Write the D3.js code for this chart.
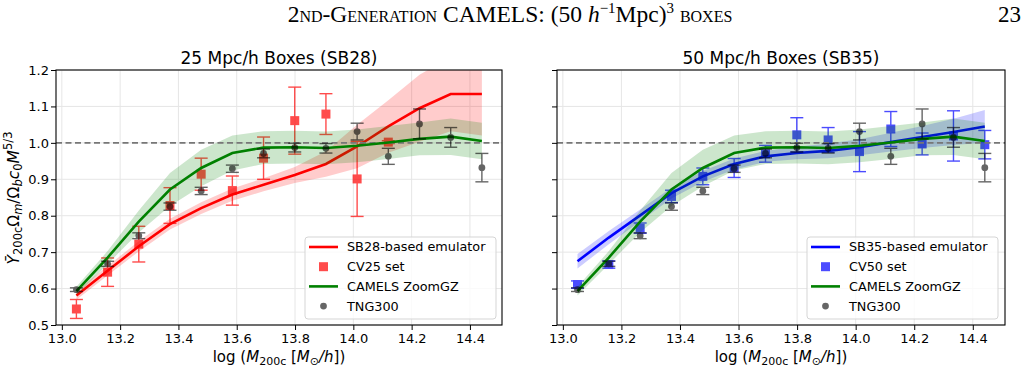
<!DOCTYPE html>
<html>
<head>
<meta charset="utf-8">
<script src="https://cdn.jsdelivr.net/npm/d3@7/dist/d3.min.js"></script>
<style>
  body { margin: 0; background: #fff; }
  svg { display: block; font-family: "DejaVu Sans", sans-serif; }
</style>
</head>
<body>
<svg id="vis" width="1027" height="372"></svg>
<script>
// mass bins (log M200c)
var massBins = [13.05, 13.157, 13.264, 13.371, 13.478, 13.585, 13.692, 13.799, 13.906, 14.013, 14.12, 14.227, 14.334, 14.441]

// TNG300 (both panels)
var tngY   = [0.597, 0.668, 0.745, 0.825, 0.868, 0.929, 0.971, 0.987, 0.985, 1.031, 0.963, 1.052, 1.015, 0.932]
var tngErr = [0.005, 0.007, 0.008, 0.010, 0.010, 0.010, 0.012, 0.012, 0.013, 0.023, 0.022, 0.041, 0.027, 0.039]

// CAMELS ZoomGZ (both panels)
var zoomY   = [0.593, 0.685, 0.784, 0.872, 0.931, 0.972, 0.987, 0.988, 0.986, 0.992, 1.001, 1.011, 1.017, 1.005]
var zoomErr = [0.012, 0.018, 0.030, 0.045, 0.050, 0.048, 0.045, 0.045, 0.045, 0.045, 0.045, 0.045, 0.050, 0.050]

// SB28 emulator + CV25 set (left)
var sb28Y   = [0.581, 0.649, 0.716, 0.777, 0.821, 0.858, 0.885, 0.912, 0.942, 0.990, 1.045, 1.095, 1.134, 1.134]
var sb28Err = [0.012, 0.013, 0.014, 0.015, 0.016, 0.017, 0.018, 0.022, 0.035, 0.060, 0.072, 0.092, 0.102, 0.114]
var cv25Y   = [0.544, 0.645, 0.722, 0.828, 0.914, 0.869, 0.958, 1.061, 1.079, 0.901, 1.002]
var cv25Err = [0.026, 0.039, 0.049, 0.049, 0.044, 0.040, 0.058, 0.092, 0.056, 0.103, 0.004]

// SB35 emulator + CV50 set (right)
var sb35Y   = [0.675, 0.740, 0.801, 0.862, 0.908, 0.942, 0.963, 0.972, 0.978, 0.988, 1.002, 1.016, 1.030, 1.045]
var sb35Err = [0.020, 0.018, 0.016, 0.015, 0.015, 0.015, 0.015, 0.017, 0.020, 0.022, 0.026, 0.030, 0.036, 0.045]
var cv50Y   = [0.611, 0.666, 0.766, 0.853, 0.908, 0.931, 0.970, 1.022, 1.008, 0.976, 1.038, 0.997, 1.019, 0.995]
var cv50Err = [0.010, 0.010, 0.014, 0.017, 0.023, 0.026, 0.023, 0.047, 0.034, 0.055, 0.048, 0.030, 0.069, 0.039]

var xTicks = [13.0, 13.2, 13.4, 13.6, 13.8, 14.0, 14.2, 14.4]
var yTicks = [0.5, 0.6, 0.7, 0.8, 0.9, 1.0, 1.1, 1.2]

var svg = d3.select("#vis")
var plotTop = 70, plotBottom = 325

var yScale = d3.scaleLinear().domain([0.5, 1.2]).range([plotBottom, plotTop])

// header line
var header = svg.append("text")
      .attr("x", 510).attr("y", 22)
      .attr("text-anchor", "middle")
      .style("font-family", "'Liberation Serif', 'DejaVu Serif', serif")
      .style("font-size", "23.5px")
header.append("tspan").text("2")
header.append("tspan").style("font-variant", "small-caps").text("nd-Generation")
header.append("tspan").text(" CAMELS: (50 ")
header.append("tspan").style("font-style", "italic").text("h")
header.append("tspan").attr("dy", -9).style("font-size", "15px").text("−1")
header.append("tspan").attr("dy", 9).text("Mpc)")
header.append("tspan").attr("dy", -9).style("font-size", "15px").text("3")
header.append("tspan").attr("dy", 9).style("font-variant", "small-caps").text(" boxes")
svg.append("text")
      .attr("x", 1021).attr("y", 22)
      .attr("text-anchor", "end")
      .style("font-family", "'Liberation Serif', 'DejaVu Serif', serif")
      .style("font-size", "23px")
      .text("23")

function drawPanel(p) {
  var xScale = d3.scaleLinear().domain([12.98, 14.51]).range([p.left, p.right])
  var g = svg.append("g")

  g.append("clipPath").attr("id", "clip-" + p.id)
    .append("rect").attr("x", p.left).attr("y", plotTop)
    .attr("width", p.right - p.left).attr("height", plotBottom - plotTop)

  // grid
  g.append("g").selectAll("line").data(xTicks).enter().append("line")
    .attr("x1", d => xScale(d)).attr("x2", d => xScale(d))
    .attr("y1", plotTop).attr("y2", plotBottom)
    .attr("stroke", "#e6e6e6").attr("stroke-width", 1)
  g.append("g").selectAll("line").data(yTicks).enter().append("line")
    .attr("x1", p.left).attr("x2", p.right)
    .attr("y1", d => yScale(d)).attr("y2", d => yScale(d))
    .attr("stroke", "#e6e6e6").attr("stroke-width", 1)

  var plot = g.append("g").attr("clip-path", "url(#clip-" + p.id + ")")

  var band = function (vals, errs) {
    return d3.area()
      .x((d, i) => xScale(massBins[i]))
      .y0((d, i) => yScale(vals[i] - errs[i]))
      .y1((d, i) => yScale(vals[i] + errs[i]))(vals)
  }
  var line = function (vals) {
    return d3.line().x((d, i) => xScale(massBins[i])).y(d => yScale(d))(vals)
  }

  // emulator band + line
  plot.append("path").attr("d", band(p.emuY, p.emuErr))
    .attr("fill", p.color).attr("fill-opacity", 0.2)
  plot.append("path").attr("d", line(p.emuY))
    .attr("fill", "none").attr("stroke", p.color).attr("stroke-width", 2.6)

  // CV set
  var cv = plot.append("g").attr("opacity", 0.7)
  var cvData = p.cvY.map((v, i) => ({x: massBins[i], y: v, e: p.cvErr[i]}))
  errorBars(cv, cvData, xScale, p.color)
  cv.selectAll("rect.pt").data(cvData).enter().append("rect")
    .attr("x", d => xScale(d.x) - 4.5).attr("y", d => yScale(d.y) - 4.5)
    .attr("width", 9).attr("height", 9).attr("fill", p.color)

  // ZoomGZ band + line
  plot.append("path").attr("d", band(zoomY, zoomErr))
    .attr("fill", "green").attr("fill-opacity", 0.2)

  // dashed reference
  plot.append("line")
    .attr("x1", p.left).attr("x2", p.right)
    .attr("y1", yScale(1)).attr("y2", yScale(1))
    .attr("stroke", "#777").attr("stroke-width", 1.6)
    .attr("stroke-dasharray", "6,3.5")

  plot.append("path").attr("d", line(zoomY))
    .attr("fill", "none").attr("stroke", "green").attr("stroke-width", 2.6)

  // TNG300
  var tng = plot.append("g").attr("opacity", 0.6)
  var tngData = tngY.map((v, i) => ({x: massBins[i], y: v, e: tngErr[i]}))
  errorBars(tng, tngData, xScale, "black")
  tng.selectAll("circle").data(tngData).enter().append("circle")
    .attr("cx", d => xScale(d.x)).attr("cy", d => yScale(d.y))
    .attr("r", 3.4).attr("fill", "black")

  // axes
  var xAxis = g.append("g")
    .attr("transform", `translate(0,${plotBottom})`)
    .call(d3.axisBottom(xScale).tickValues(xTicks).tickFormat(d3.format(".1f")).tickSizeOuter(0).tickSize(5))
  var yAxis = g.append("g")
    .attr("transform", `translate(${p.left},0)`)
    .call(d3.axisLeft(yScale).tickValues(yTicks).tickFormat(p.yLabels ? d3.format(".1f") : "").tickSizeOuter(0).tickSize(5))
  ;[xAxis, yAxis].forEach(a => {
    a.select(".domain").remove()
    a.selectAll("text").style("font-size", "13px").style("font-family", "DejaVu Sans").attr("fill", "#000")
    a.selectAll("line").attr("stroke", "#000").attr("stroke-width", 1)
  })
  xAxis.selectAll("text").attr("dy", "0.85em").attr("y", 7)
  yAxis.selectAll("text").attr("x", -7)

  g.append("rect").attr("x", p.left).attr("y", plotTop)
    .attr("width", p.right - p.left).attr("height", plotBottom - plotTop)
    .attr("fill", "none").attr("stroke", "#000").attr("stroke-width", 1.1)

  // title
  g.append("text").attr("x", (p.left + p.right) / 2).attr("y", 64)
    .attr("text-anchor", "middle").style("font-size", "17px").text(p.title)

  // x label
  var xl = g.append("text").attr("x", (p.left + p.right) / 2).attr("y", 362)
    .attr("text-anchor", "middle").style("font-size", "15px")
  xl.append("tspan").text("log (")
  xl.append("tspan").style("font-style", "italic").text("M")
  xl.append("tspan").attr("dy", 3).style("font-size", "11px").text("200c")
  xl.append("tspan").attr("dy", -3).text(" [")
  xl.append("tspan").style("font-style", "italic").text("M")
  xl.append("tspan").attr("dy", 3).style("font-size", "11px").text("⊙")
  xl.append("tspan").attr("dy", -3).style("font-style", "italic").text("/h")
  xl.append("tspan").text("])")

  // legend
  var lx = p.legendX, ly = 237
  var lg = g.append("g")
  lg.append("rect").attr("x", lx).attr("y", ly).attr("width", 191).attr("height", 82)
    .attr("rx", 3).attr("fill", "#fff").attr("fill-opacity", 0.8)
    .attr("stroke", "#d5d5d5").attr("stroke-width", 1)
  var items = [
    {label: p.emuLabel, kind: "line", color: p.color},
    {label: p.cvLabel, kind: "square", color: p.color},
    {label: "CAMELS ZoomGZ", kind: "line", color: "green"},
    {label: "TNG300", kind: "dot", color: "black"}
  ]
  items.forEach((it, i) => {
    var cy = ly + 10 + i * 19.7
    if (it.kind == "line") {
      lg.append("line").attr("x1", lx + 4).attr("x2", lx + 33).attr("y1", cy).attr("y2", cy)
        .attr("stroke", it.color).attr("stroke-width", 2.6)
    } else if (it.kind == "square") {
      lg.append("rect").attr("x", lx + 14).attr("y", cy - 4.5).attr("width", 9).attr("height", 9)
        .attr("fill", it.color).attr("opacity", 0.7)
    } else {
      lg.append("circle").attr("cx", lx + 18.5).attr("cy", cy).attr("r", 3.4)
        .attr("fill", it.color).attr("opacity", 0.6)
    }
    lg.append("text").attr("x", lx + 42).attr("y", cy).attr("dy", "0.35em")
      .style("font-size", "12.8px").text(it.label)
  })
}

function errorBars(sel, data, xScale, color) {
  sel.selectAll("line.v").data(data).enter().append("line")
    .attr("x1", d => xScale(d.x)).attr("x2", d => xScale(d.x))
    .attr("y1", d => yScale(d.y - d.e)).attr("y2", d => yScale(d.y + d.e))
    .attr("stroke", color).attr("stroke-width", 1.4)
  ;[-1, 1].forEach(s => {
    sel.selectAll("line.c" + s).data(data).enter().append("line")
      .attr("x1", d => xScale(d.x) - 6.5).attr("x2", d => xScale(d.x) + 6.5)
      .attr("y1", d => yScale(d.y + s * d.e)).attr("y2", d => yScale(d.y + s * d.e))
      .attr("stroke", color).attr("stroke-width", 1.4)
  })
}

drawPanel({id: "a", left: 56, right: 502, color: "red", title: "25 Mpc/h Boxes (SB28)",
  emuY: sb28Y, emuErr: sb28Err, cvY: cv25Y, cvErr: cv25Err,
  emuLabel: "SB28-based emulator", cvLabel: "CV25 set", legendX: 305, yLabels: true})
drawPanel({id: "b", left: 557, right: 1005, color: "blue", title: "50 Mpc/h Boxes (SB35)",
  emuY: sb35Y, emuErr: sb35Err, cvY: cv50Y, cvErr: cv50Err,
  emuLabel: "SB35-based emulator", cvLabel: "CV50 set", legendX: 807, yLabels: false})

// y label
var yl = svg.append("text")
      .attr("transform", "translate(19,198) rotate(-90)")
      .attr("text-anchor", "middle").style("font-size", "15.5px")
yl.append("tspan").style("font-style", "italic").text("Ȳ")
yl.append("tspan").attr("dy", 3).style("font-size", "11.5px").text("200c")
yl.append("tspan").attr("dy", -3).text("Ω")
yl.append("tspan").attr("dy", 3).style("font-size", "11.5px").style("font-style", "italic").text("m")
yl.append("tspan").attr("dy", -3).text("/Ω")
yl.append("tspan").attr("dy", 3).style("font-size", "11.5px").style("font-style", "italic").text("b")
yl.append("tspan").attr("dy", -3).style("font-style", "italic").text("c")
yl.append("tspan").attr("dy", 3).style("font-size", "11.5px").text("0")
yl.append("tspan").attr("dy", -3).style("font-style", "italic").text("M")
yl.append("tspan").attr("dy", -7).style("font-size", "11.5px").text("5/3")
</script>
</body>
</html>
